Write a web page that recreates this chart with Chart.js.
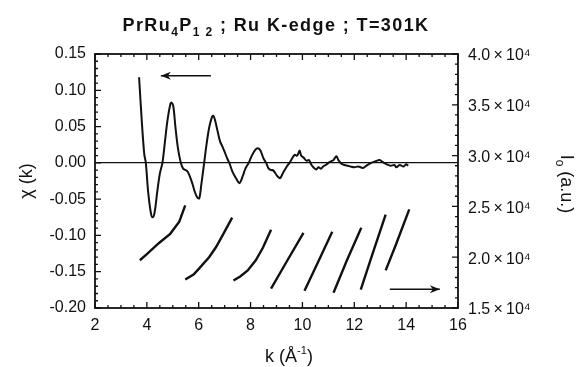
<!DOCTYPE html>
<html>
<head>
<meta charset="utf-8">
<script src="https://cdn.jsdelivr.net/npm/chart.js@4"></script>
<style>
html, body { margin: 0; padding: 0; background: #fff; }
</style>
</head>
<body>
<canvas id="dataChart" width="582" height="367"></canvas>
<script>
// chi(k) - left axis
const kChi = [3.70, 3.80, 3.90, 3.96, 4.05, 4.15, 4.22, 4.30, 4.40, 4.50, 4.60, 4.70, 4.80, 4.90, 4.95, 5.02, 5.10, 5.20, 5.31, 5.40,
  5.50, 5.57, 5.65, 5.75, 5.85, 5.95, 6.02, 6.10, 6.21, 6.30, 6.40, 6.50, 6.56, 6.62, 6.72, 6.82, 6.92, 7.00, 7.10, 7.18,
  7.30, 7.45, 7.57, 7.70, 7.80, 7.93, 8.05, 8.18, 8.28, 8.38, 8.50, 8.60, 8.70, 8.80, 8.86, 8.95, 9.05, 9.14, 9.25, 9.38,
  9.50, 9.60, 9.70, 9.80, 9.89, 9.95, 10.05, 10.15, 10.25, 10.35, 10.45, 10.53, 10.62, 10.72, 10.80, 10.90, 11.00, 11.10, 11.20, 11.31,
  11.40, 11.50, 11.62, 11.75, 11.85, 12.00, 12.15, 12.34, 12.50, 12.65, 12.80, 12.98, 13.10, 13.25, 13.40, 13.55, 13.62, 13.75, 13.90, 14.00, 14.08];
const chi = [0.118, 0.060, 0.012, 0.000, -0.040, -0.068, -0.075, -0.068, -0.040, -0.015, 0.000, 0.030, 0.060, 0.080, 0.083, 0.078, 0.050, 0.020, 0.000, -0.008,
  -0.010, -0.012, -0.018, -0.028, -0.040, -0.048, -0.049, -0.030, 0.000, 0.025, 0.048, 0.062, 0.065, 0.060, 0.045, 0.030, 0.022, 0.015, 0.006, 0.000,
  -0.012, -0.022, -0.028, -0.018, -0.008, 0.000, 0.010, 0.018, 0.020, 0.017, 0.006, 0.000, -0.008, -0.010, -0.010, -0.014, -0.019, -0.021, -0.014, -0.006,
  0.000, 0.006, 0.011, 0.010, 0.017, 0.010, 0.007, 0.003, 0.004, -0.003, -0.007, -0.009, -0.006, -0.008, -0.005, -0.003, 0.000, 0.002, 0.004, 0.009,
  0.003, -0.001, -0.003, -0.004, -0.005, -0.006, -0.005, -0.007, -0.003, 0.000, 0.002, 0.004, 0.001, -0.002, -0.004, -0.003, -0.006, -0.003, -0.005, -0.002, -0.004];

// I0 scans - right axis (null = gap between scans)
const kI0 = [3.73, 4.00, 4.47, 4.90, 5.25, 5.48, 5.48,
  5.48, 5.80, 6.02, 6.40, 6.67, 6.93, 7.29, 7.29,
  7.34, 7.60, 7.89, 8.20, 8.47, 8.79, 8.79,
  8.79, 9.40, 10.04, 10.04,
  10.08, 10.60, 11.15, 11.15,
  11.20, 11.70, 12.27, 12.27,
  12.25, 12.70, 13.21, 13.21,
  13.21, 13.60, 14.12];
const i0 = [19700, 20300, 21400, 22300, 23500, 25100, null,
  17800, 18300, 18900, 20000, 21000, 22200, 23900, null,
  17700, 18100, 18700, 19700, 20900, 22700, null,
  16900, 19600, 22400, null,
  16700, 19500, 22500, null,
  16500, 19600, 22900, null,
  16800, 20300, 24200, null,
  18700, 21200, 24700];

// axis ranges / steps
const kRange = [2, 16];
const chiRange = [-0.20, 0.15];
const i0Range = [15000, 40000];

// direction arrows: [kTail, kHead, level, axis]
const arrowLeft = [6.47, 4.54, 0.12, 'y'];
const arrowRight = [13.37, 15.30, 16840, 'y1'];

const INK = '#111';
const FAMILY = '"Liberation Sans", Arial, sans-serif';
Chart.defaults.font.family = FAMILY;
Chart.defaults.color = INK;

function drawRuns(ctx, runs, cx, cy, rot) {
    ctx.save();
    ctx.translate(cx, cy);
    ctx.rotate(rot);
    ctx.textAlign = 'left';
    ctx.textBaseline = 'alphabetic';
    ctx.fillStyle = INK;
    let w = 0;
    runs.forEach(r => {
        ctx.font = r.font;
        ctx.letterSpacing = r.ls || '0px';
        r.w = ctx.measureText(r.t).width;
        w += r.w;
    });
    let x = -w / 2;
    runs.forEach(r => {
        ctx.font = r.font;
        ctx.letterSpacing = r.ls || '0px';
        ctx.fillText(r.t, x, r.dy || 0);
        x += r.w;
    });
    ctx.restore();
}

function drawArrow(ctx, chart, a) {
    const ys = chart.scales[a[3]];
    const x0 = chart.scales.x.getPixelForValue(a[0]);
    const x1 = chart.scales.x.getPixelForValue(a[1]);
    const yy = ys.getPixelForValue(a[2]);
    const dir = Math.sign(x1 - x0);
    ctx.beginPath();
    ctx.moveTo(x0, yy);
    ctx.lineTo(x1, yy);
    ctx.stroke();
    ctx.beginPath();
    ctx.moveTo(x1, yy);
    ctx.lineTo(x1 - dir * 10, yy - 4);
    ctx.lineTo(x1 - dir * 7, yy);
    ctx.lineTo(x1 - dir * 10, yy + 4);
    ctx.closePath();
    ctx.fill();
}

// frame, inward ticks, titles and arrows
const decorations = {
    id: 'decorations',
    afterDraw(chart) {
        const { ctx, chartArea: a, scales } = chart;
        ctx.save();
        ctx.strokeStyle = INK;
        ctx.fillStyle = INK;
        ctx.lineWidth = 1.8;
        ctx.strokeRect(a.left, a.top, a.right - a.left, a.bottom - a.top);

        ctx.lineWidth = 1.3;
        ctx.beginPath();
        // x ticks, bottom and top
        for (let v = kRange[0]; v <= kRange[1] + 1e-9; v += 0.5) {
            const px = scales.x.getPixelForValue(v);
            const len = Math.abs(v % 2) < 1e-9 ? 6 : 3;
            ctx.moveTo(px, a.bottom); ctx.lineTo(px, a.bottom - len);
            ctx.moveTo(px, a.top); ctx.lineTo(px, a.top + len);
        }
        // left ticks
        for (let i = 0; i <= 35; i++) {
            const py = scales.y.getPixelForValue(chiRange[0] + i * 0.01);
            const len = i % 5 === 0 ? 6 : 3;
            ctx.moveTo(a.left, py); ctx.lineTo(a.left + len, py);
        }
        // right ticks
        for (let v = i0Range[0]; v <= i0Range[1]; v += 1000) {
            const py = scales.y1.getPixelForValue(v);
            const len = v % 5000 === 0 ? 6 : 3;
            ctx.moveTo(a.right, py); ctx.lineTo(a.right - len, py);
        }
        ctx.stroke();

        ctx.lineWidth = 1.5;
        drawArrow(ctx, chart, arrowLeft);
        drawArrow(ctx, chart, arrowRight);

        const b = 'bold 18px ' + FAMILY;
        const bs = 'bold 12px ' + FAMILY;
        drawRuns(ctx, [
            { t: 'PrRu', font: b, ls: '1.4px' },
            { t: '4', font: bs, dy: 5, ls: '1.4px' },
            { t: 'P', font: b, ls: '1.4px' },
            { t: '1 2', font: bs, dy: 5, ls: '1.4px' },
            { t: ' ; Ru K-edge ; T=301K', font: b, ls: '1.4px' }
        ], 276, 31, 0);

        const f = '18px ' + FAMILY;
        const fs = '11px ' + FAMILY;
        drawRuns(ctx, [
            { t: 'k (Å', font: f },
            { t: '-1', font: fs, dy: -8 },
            { t: ')', font: f }
        ], 289, 362, 0);
        drawRuns(ctx, [{ t: 'χ (k)', font: f }], 32, 181, -Math.PI / 2);
        drawRuns(ctx, [
            { t: 'I', font: f },
            { t: 'o', font: '12px ' + FAMILY, dy: 5 },
            { t: ' (a.u.)', font: f }
        ], 561, 184, Math.PI / 2);
        ctx.restore();
    }
};

function createGraph() {
    const ctx = document.getElementById('dataChart').getContext('2d');
    new Chart(ctx, {
        type: 'line',
        data: {
            datasets: [{
                label: 'chi',
                data: kChi.map((k, i) => ({ x: k, y: chi[i] })),
                yAxisID: 'y',
                borderColor: INK,
                borderWidth: 2,
                pointRadius: 0,
                tension: 0.35
            }, {
                label: 'I0',
                data: kI0.map((k, i) => ({ x: k, y: i0[i] })),
                yAxisID: 'y1',
                borderColor: INK,
                borderWidth: 2.4,
                pointRadius: 0,
                tension: 0,
                spanGaps: false
            }]
        },
        options: {
            responsive: false,
            animation: false,
            layout: { padding: { top: 54 } },
            scales: {
                x: {
                    type: 'linear',
                    min: kRange[0], max: kRange[1],
                    grid: { display: false, drawTicks: false },
                    border: { display: false },
                    ticks: { stepSize: 2, padding: 8, font: { size: 16 }, color: INK },
                    afterFit: s => { s.height = 59; }
                },
                y: {
                    position: 'left',
                    min: chiRange[0], max: chiRange[1],
                    grid: {
                        drawTicks: false,
                        color: c => Math.abs(c.tick.value) < 1e-9 ? INK : 'transparent',
                        lineWidth: 1.3
                    },
                    border: { display: false },
                    ticks: {
                        stepSize: 0.05, padding: 9, font: { size: 16 }, color: INK,
                        callback: v => (Math.abs(v) < 1e-9 ? 0 : v).toFixed(2)
                    },
                    afterFit: s => { s.width = 95; }
                },
                y1: {
                    position: 'right',
                    min: i0Range[0], max: i0Range[1],
                    grid: { display: false, drawTicks: false },
                    border: { display: false },
                    ticks: {
                        stepSize: 5000, padding: 10, labelOffset: 2, font: { size: 16 }, color: INK,
                        callback: v => (v / 1e4).toFixed(1) + '\u2009×\u200910⁴'
                    },
                    afterFit: s => { s.width = 124; }
                }
            },
            plugins: {
                legend: { display: false },
                tooltip: { enabled: false }
            }
        },
        plugins: [decorations]
    });
}

window.onload = function() {
    createGraph();
};
</script>
</body>
</html>
